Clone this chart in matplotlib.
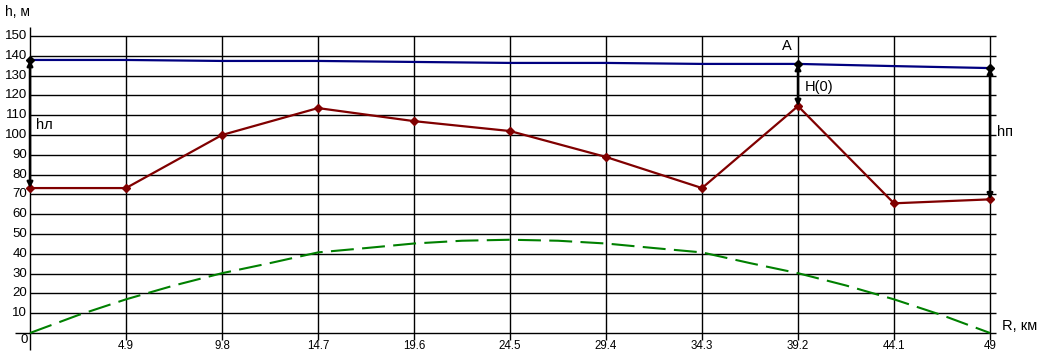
import numpy as np
import matplotlib
matplotlib.use('Agg')
import matplotlib.pyplot as plt

plt.rcParams['font.family'] = ['Liberation Sans', 'DejaVu Sans']

# distances along the path, km
dist = [0, 4.9, 9.8, 14.7, 19.6, 24.5, 29.4, 34.3, 39.2, 44.1, 49]
dist_labels = ['0', '4.9', '9.8', '14.7', '19.6', '24.5', '29.4', '34.3', '39.2', '44.1', '49']
# terrain profile, m
terrain = [73.2, 73.2, 100, 113.6, 107, 102, 88.9, 73.2, 114.6, 65.5, 67.5]
# line of sight, m
sight = [137.9, 137.9, 137.4, 137.4, 136.9, 136.4, 136.4, 135.9, 135.9, 134.8, 133.8]
# earth bulge, m (read at half steps)
bulge_dist = [0, 2.45, 4.9, 7.35, 9.8, 12.25, 14.7, 17.15, 19.6, 22.05, 24.5,
              26.95, 29.4, 31.85, 34.3, 36.75, 39.2, 41.65, 44.1, 46.55, 49]
bulge = [0, 9.0, 17.0, 24.0, 30.2, 35.3, 40.7, 42.9, 45.2, 46.6, 47.1,
         46.6, 45.2, 42.9, 40.7, 35.3, 30.2, 24.0, 17.0, 9.0, 0]
yticks = [10, 20, 30, 40, 50, 60, 70, 80, 90, 100, 110, 120, 130, 140, 150]

W, H = 1045, 354
fig = plt.figure(figsize=(W / 100, H / 100), dpi=100)
ax = fig.add_axes([30 / W, 21 / H, 960 / W, 297 / H])
ax.set_xlim(0, 49)
ax.set_ylim(0, 150)
for s in ax.spines.values():
    s.set_visible(False)
ax.set_xticks([])
ax.set_yticks([])

kx = 49 / 960.
ky = 150 / 297.
# grid
ax.hlines(yticks, 0, 49 + 6 * kx, color='black', lw=1, clip_on=False, zorder=1)
ax.hlines(0, -15 * kx, 49 + 6 * kx, color='black', lw=1, clip_on=False, zorder=1)
ax.vlines(dist[1:], -7 * ky, 150, color='black', lw=1, clip_on=False, zorder=1)
ax.vlines(0, -17 * ky, 150 + 9 * ky, color='black', lw=1, clip_on=False, zorder=1)

# tick labels
for v in yticks:
    ax.text(-3 * kx, v, str(v), ha='right', va='center', fontsize=9.5)
for d, lab in zip(dist, dist_labels):
    if d == 0:
        ax.text(-2 * kx, -7 * ky, lab, ha='right', va='center', fontsize=9.5)
    else:
        ax.text(d, -13 * ky, lab, ha='center', va='center', fontsize=8.3)

ax.text(-25 * kx, 150 + 24 * ky, 'h, м', ha='left', va='center', fontsize=10)
ax.text(49 + 12 * kx, 0 + 7 * ky, 'R, км', ha='left', va='center', fontsize=10.5)

# series
ax.plot(bulge_dist, bulge, color='#008000', lw=1.5, dashes=(11, 4), clip_on=False, zorder=3)
ax.plot(dist, sight, color='#000080', lw=1.6, clip_on=False, zorder=3)
ax.plot(dist, terrain, color='#800000', lw=1.6, marker='D', ms=4.5,
        mfc='#800000', mec='#800000', clip_on=False, zorder=4)

# clearance arrows
for i in [0, 8, 10]:
    ax.annotate('', xy=(dist[i], sight[i]), xytext=(dist[i], terrain[i]),
                arrowprops=dict(arrowstyle='<|-|>', color='black', lw=1.8,
                                mutation_scale=8, shrinkA=0, shrinkB=0),
                zorder=5, annotation_clip=False)
    ax.plot(dist[i], sight[i], marker='D', ms=4.5, color='black', clip_on=False, zorder=6)

ax.text(6 * kx, 105, 'hл', ha='left', va='center', fontsize=10.5)
ax.text(39.2 + 7 * kx, 124, 'H(0)', ha='left', va='center', fontsize=10.5)
ax.text(49 + 7 * kx, 101.5, 'hп', ha='left', va='center', fontsize=10.5)
ax.text(39.2 - 6 * kx, 145, 'A', ha='right', va='center', fontsize=10.5)

fig.savefig('out.png', dpi=100)
